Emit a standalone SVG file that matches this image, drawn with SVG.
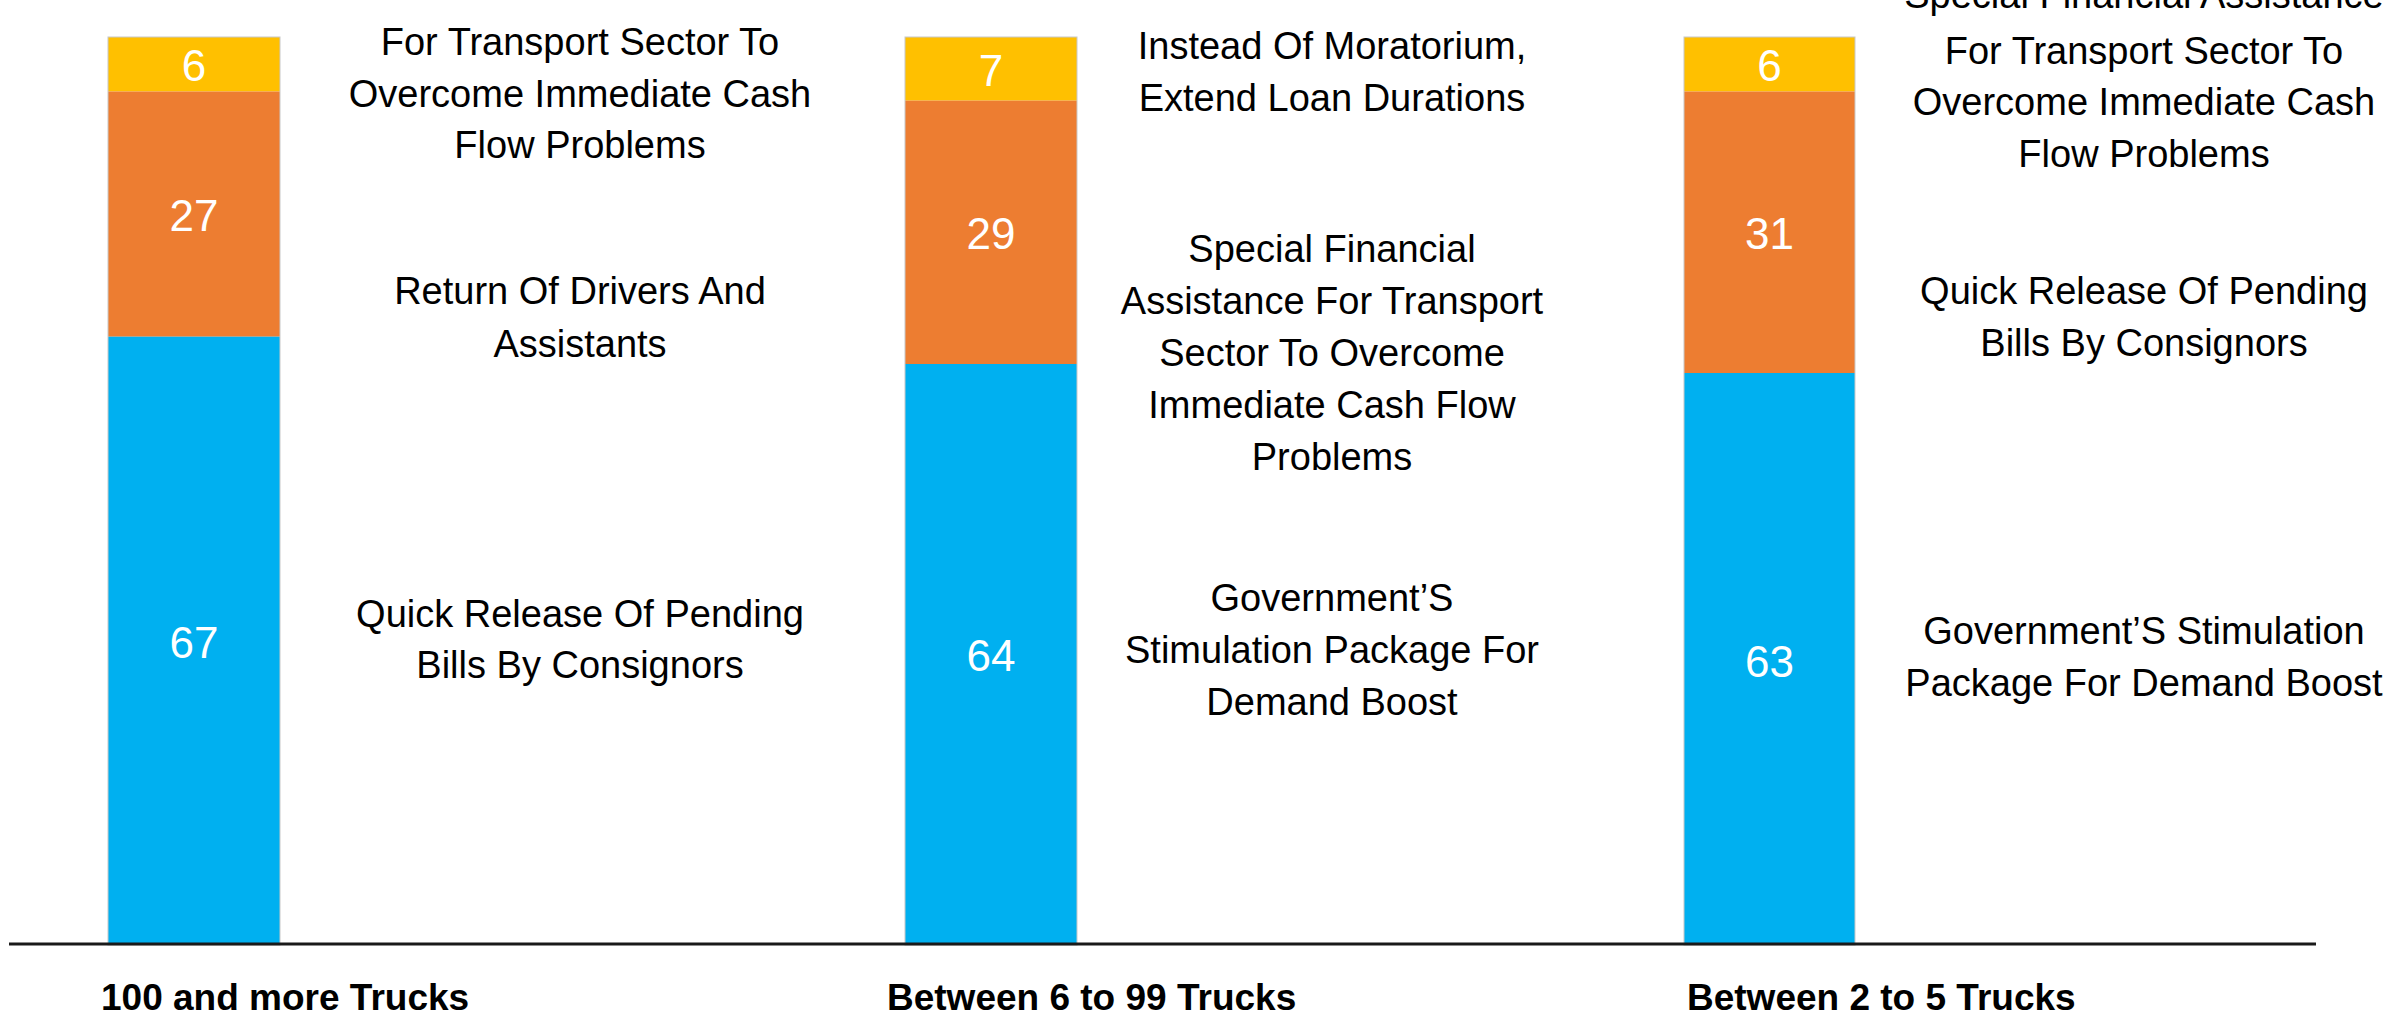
<svg xmlns="http://www.w3.org/2000/svg" width="2402" height="1015" viewBox="0 0 2402 1015">
  <style>
    .lbl { font-family: "Liberation Sans", Arial, sans-serif; font-size: 38px; fill: #000000; text-anchor: middle; }
    .num { font-family: "Liberation Sans", Arial, sans-serif; font-size: 44px; fill: #ffffff; text-anchor: middle; }
    .cat { font-family: "Liberation Sans", Arial, sans-serif; font-size: 37px; font-weight: bold; fill: #000000; }
    .y { fill: #FFC000; }
    .o { fill: #ED7D31; }
    .b { fill: #00B0F0; }
    .edge { fill: none; stroke: #c8c8c8; stroke-width: 1; }
    .axis { stroke: #1a1a1a; stroke-width: 3; }
  </style>
  <rect x="0" y="0" width="2402" height="1015" fill="#ffffff"/>

  <g id="bar-100-plus">
    <rect class="y" x="108" y="37" width="172" height="54.5"/>
    <rect class="o" x="108" y="91.5" width="172" height="245.2"/>
    <rect class="b" x="108" y="336.7" width="172" height="608.3"/>
    <rect class="edge" x="108" y="37" width="172" height="908"/>
    <text class="num" x="194" y="81">6</text>
    <text class="num" x="194" y="231">27</text>
    <text class="num" x="194" y="658">67</text>
  </g>

  <g id="labels-100-plus">
    <text class="lbl" x="580" y="55">For Transport Sector To</text>
    <text class="lbl" x="580" y="107">Overcome Immediate Cash</text>
    <text class="lbl" x="580" y="158">Flow Problems</text>
    <text class="lbl" x="580" y="304">Return Of Drivers And</text>
    <text class="lbl" x="580" y="357">Assistants</text>
    <text class="lbl" x="580" y="627">Quick Release Of Pending</text>
    <text class="lbl" x="580" y="678">Bills By Consignors</text>
  </g>

  <g id="bar-6-99">
    <rect class="y" x="905" y="37" width="172" height="63.6"/>
    <rect class="o" x="905" y="100.6" width="172" height="263.4"/>
    <rect class="b" x="905" y="364" width="172" height="581"/>
    <rect class="edge" x="905" y="37" width="172" height="908"/>
    <text class="num" x="991" y="86">7</text>
    <text class="num" x="991" y="249">29</text>
    <text class="num" x="991" y="671">64</text>
  </g>

  <g id="labels-6-99">
    <text class="lbl" x="1332" y="59">Instead Of Moratorium,</text>
    <text class="lbl" x="1332" y="111">Extend Loan Durations</text>
    <text class="lbl" x="1332" y="262">Special Financial</text>
    <text class="lbl" x="1332" y="314">Assistance For Transport</text>
    <text class="lbl" x="1332" y="366">Sector To Overcome</text>
    <text class="lbl" x="1332" y="418">Immediate Cash Flow</text>
    <text class="lbl" x="1332" y="470">Problems</text>
    <text class="lbl" x="1332" y="611">Government’S</text>
    <text class="lbl" x="1332" y="663">Stimulation Package For</text>
    <text class="lbl" x="1332" y="715">Demand Boost</text>
  </g>

  <g id="bar-2-5">
    <rect class="y" x="1684" y="37" width="171" height="54.5"/>
    <rect class="o" x="1684" y="91.5" width="171" height="281.5"/>
    <rect class="b" x="1684" y="373" width="171" height="572"/>
    <rect class="edge" x="1684" y="37" width="171" height="908"/>
    <text class="num" x="1769.5" y="81">6</text>
    <text class="num" x="1769.5" y="249">31</text>
    <text class="num" x="1769.5" y="677">63</text>
  </g>

  <g id="labels-2-5">
    <text class="lbl" x="2144" y="8">Special Financial Assistance</text>
    <text class="lbl" x="2144" y="64">For Transport Sector To</text>
    <text class="lbl" x="2144" y="115">Overcome Immediate Cash</text>
    <text class="lbl" x="2144" y="167">Flow Problems</text>
    <text class="lbl" x="2144" y="304">Quick Release Of Pending</text>
    <text class="lbl" x="2144" y="356">Bills By Consignors</text>
    <text class="lbl" x="2144" y="644">Government’S Stimulation</text>
    <text class="lbl" x="2144" y="696">Package For Demand Boost</text>
  </g>

  <g id="connectors">
    <line class="axis" x1="9" y1="944" x2="2316" y2="944"/>
  </g>

  <g id="categories">
    <text class="cat" x="101" y="1010">100 and more Trucks</text>
    <text class="cat" x="887" y="1010">Between 6 to 99 Trucks</text>
    <text class="cat" x="1687" y="1010">Between 2 to 5 Trucks</text>
  </g>
</svg>
